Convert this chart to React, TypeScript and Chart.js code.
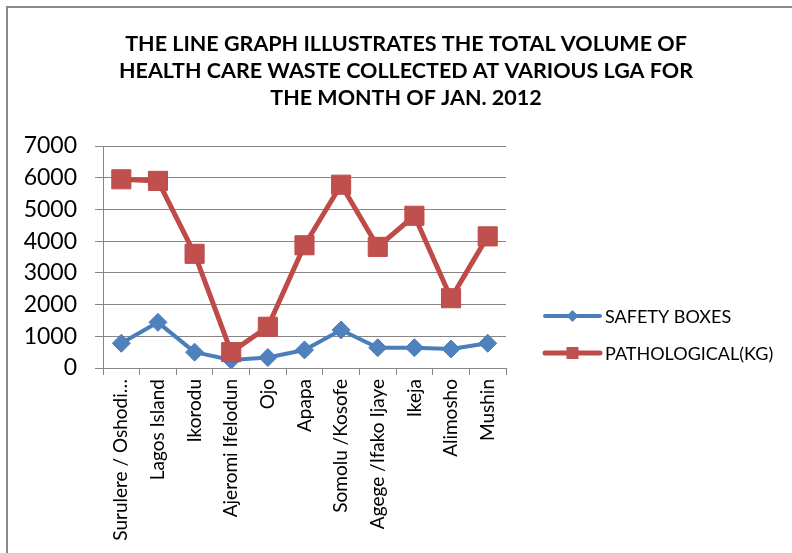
import React, { useEffect, useRef } from 'react';
import { Chart, registerables } from 'chart.js';

Chart.register(...registerables);

const titleLines = [
  'THE LINE GRAPH ILLUSTRATES THE TOTAL VOLUME OF',
  'HEALTH CARE WASTE COLLECTED AT VARIOUS LGA FOR',
  'THE MONTH OF JAN. 2012',
];

const categories = [
  'Surulere / Oshodi…',
  'Lagos Island',
  'Ikorodu',
  'Ajeromi Ifelodun',
  'Ojo',
  'Apapa',
  'Somolu /Kosofe',
  'Agege /Ifako Ijaye',
  'Ikeja',
  'Alimosho',
  'Mushin',
];

const seriesNames = ['SAFETY BOXES', 'PATHOLOGICAL(KG)'];
const safetyBoxes = [780, 1440, 500, 250, 330, 570, 1200, 640, 640, 600, 780];
const pathological = [5950, 5900, 3600, 500, 1300, 3870, 5780, 3820, 4800, 2200, 4150];

const yMin = 0;
const yMax = 7000;
const yStep = 1000;

const BLUE_LINE = '#4A7EBB';
const BLUE_FILL = '#4F81BD';
const RED_LINE = '#BE4B48';
const RED_FILL = '#C0504D';
const GRID = '#868686';

const frameTitleLegend = {
  id: 'frameTitleLegend',
  beforeDraw(chart: any) {
    const ctx = chart.ctx;
    ctx.save();
    ctx.fillStyle = '#ffffff';
    ctx.fillRect(0, 0, chart.width, chart.height);
    ctx.strokeStyle = '#8a8a8a';
    ctx.lineWidth = 2;
    ctx.beginPath();
    ctx.moveTo(7, chart.height + 2);
    ctx.lineTo(7, 7);
    ctx.lineTo(chart.width + 2, 7);
    ctx.stroke();
    ctx.restore();
  },
  afterDraw(chart: any) {
    const ctx = chart.ctx;
    ctx.save();
    // title
    ctx.fillStyle = '#000000';
    ctx.font = 'bold 21.5px Lato';
    ctx.textAlign = 'center';
    ctx.textBaseline = 'middle';
    titleLines.forEach((line, i) => {
      ctx.fillText(line, 406, 44 + i * 27);
    });
    // legend
    chart.data.datasets.forEach((ds: any, i: number) => {
      const y = 316 + i * 37;
      const x0 = 545;
      const x1 = 600;
      const xm = (x0 + x1) / 2;
      ctx.strokeStyle = ds.borderColor;
      ctx.lineWidth = ds.borderWidth;
      ctx.lineCap = 'round';
      ctx.beginPath();
      ctx.moveTo(x0, y);
      ctx.lineTo(x1, y);
      ctx.stroke();
      ctx.fillStyle = ds.pointBackgroundColor;
      ctx.beginPath();
      if (ds.pointStyle === 'rectRot') {
        const r = 6;
        ctx.moveTo(xm, y - r);
        ctx.lineTo(xm + r, y);
        ctx.lineTo(xm, y + r);
        ctx.lineTo(xm - r, y);
        ctx.closePath();
      } else {
        const s = 6;
        ctx.rect(xm - s, y - s, 2 * s, 2 * s);
      }
      ctx.fill();
      ctx.fillStyle = '#000000';
      ctx.font = '18px Lato';
      ctx.textAlign = 'left';
      ctx.textBaseline = 'middle';
      ctx.fillText(ds.label, 605, y + 1);
    });
    ctx.restore();
  },
};

export default function App() {
  const ref = useRef<HTMLCanvasElement>(null);

  useEffect(() => {
    document.body.style.margin = '0';
    const canvas = ref.current;
    if (!canvas) return;
    const chart = new Chart(canvas, {
      type: 'line',
      data: {
        labels: categories,
        datasets: [
          {
            label: seriesNames[0],
            data: safetyBoxes,
            borderColor: BLUE_LINE,
            backgroundColor: BLUE_FILL,
            borderWidth: 4,
            pointStyle: 'rectRot',
            pointRadius: 9,
            pointBackgroundColor: BLUE_FILL,
            pointBorderColor: BLUE_LINE,
            pointBorderWidth: 1,
            borderJoinStyle: 'round',
            borderCapStyle: 'round',
            tension: 0,
            order: 1,
          },
          {
            label: seriesNames[1],
            data: pathological,
            borderColor: RED_LINE,
            backgroundColor: RED_FILL,
            borderWidth: 5,
            pointStyle: 'rect',
            pointRadius: 13.5,
            pointBackgroundColor: RED_FILL,
            pointBorderColor: RED_LINE,
            pointBorderWidth: 1,
            borderJoinStyle: 'round',
            borderCapStyle: 'round',
            tension: 0,
            order: 0,
          },
        ],
      },
      options: {
        responsive: false,
        animation: false,
        layout: { padding: { top: 146, left: 0, right: 286, bottom: 5 } },
        plugins: {
          legend: { display: false },
          title: { display: false },
          tooltip: { enabled: false },
        },
        scales: {
          x: {
            type: 'category',
            offset: true,
            grid: {
              display: true,
              drawOnChartArea: false,
              drawTicks: true,
              offset: true,
              tickLength: 7,
              color: GRID,
            },
            border: { display: true, color: GRID, width: 1 },
            ticks: {
              autoSkip: false,
              minRotation: 90,
              maxRotation: 90,
              padding: 4,
              color: '#000000',
              font: { family: 'Lato', size: 19 },
            },
            afterFit(scale: any) {
              scale.height = 180;
            },
          },
          y: {
            min: yMin,
            max: yMax,
            ticks: {
              stepSize: yStep,
              padding: 18,
              color: '#000000',
              font: { family: 'Lato', size: 23 },
              callback: (v: any) => String(v),
            },
            grid: { color: GRID, tickLength: 8, lineWidth: 1 },
            border: { display: true, color: GRID, width: 1 },
            afterFit(scale: any) {
              scale.width = 103;
            },
          },
        },
      },
      plugins: [frameTitleLegend],
    });
    return () => chart.destroy();
  }, []);

  return (
    <div style={{ position: 'absolute', left: 0, top: 0, width: 792, height: 553 }}>
      <canvas ref={ref} width={792} height={553} />
    </div>
  );
}
